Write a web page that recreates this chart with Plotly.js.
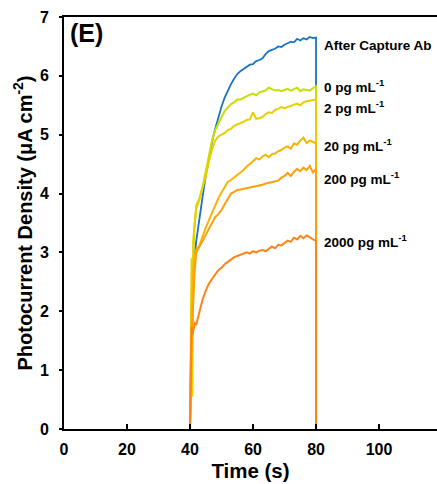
<!DOCTYPE html>
<html>
<head>
<meta charset="utf-8">
<script src="https://cdn.plot.ly/plotly-3.0.1.min.js"></script>
<style>html,body{margin:0;padding:0;background:#fff;}#chart{width:437px;height:484px;}</style>
</head>
<body>
<div id="chart"></div>
<script>
// Time (s)
const time = [40, 40.2, 40.5, 40.8, 41, 41.5, 42, 43, 44, 45, 46, 47, 48, 49, 50, 51, 52, 53, 54, 55, 56, 57, 58, 59, 60, 61, 62, 63, 64, 65, 66, 67, 68, 69, 70, 71, 72, 73, 74, 75, 76, 77, 78, 79, 80, 80];

// Photocurrent density (µA cm^-2)
const afterCaptureAb = [0, 0.8, 1.7, 2.2, 2.5, 2.95, 3.2, 3.6, 3.95, 4.3, 4.6, 4.88, 5.1, 5.3, 5.48, 5.63, 5.76, 5.86, 5.95, 6.03, 6.08, 6.12, 6.15, 6.19, 6.2, 6.25, 6.27, 6.3, 6.37, 6.42, 6.44, 6.46, 6.5, 6.49, 6.53, 6.55, 6.58, 6.57, 6.63, 6.6, 6.64, 6.62, 6.66, 6.64, 6.65, 0];
const pg0 = [0, 1.2, 2.2, 2.7, 3.0, 3.5, 3.8, 3.92, 4.12, 4.4, 4.65, 4.9, 5.08, 5.2, 5.3, 5.4, 5.46, 5.52, 5.55, 5.6, 5.6, 5.63, 5.65, 5.68, 5.7, 5.67, 5.72, 5.73, 5.75, 5.8, 5.77, 5.75, 5.76, 5.74, 5.76, 5.78, 5.75, 5.77, 5.8, 5.74, 5.77, 5.76, 5.75, 5.79, 5.82, 0];
const pg2 = [0, 1.5, 2.9, 0.55, 3.2, 3.5, 3.75, 3.9, 4.1, 4.3, 4.55, 4.75, 4.9, 4.97, 5.0, 5.03, 5.08, 5.1, 5.15, 5.17, 5.2, 5.22, 5.25, 5.26, 5.38, 5.27, 5.28, 5.3, 5.35, 5.38, 5.37, 5.42, 5.44, 5.47, 5.45, 5.47, 5.5, 5.52, 5.53, 5.5, 5.55, 5.57, 5.58, 5.58, 5.6, 0];
const pg20 = [0, 1.0, 1.9, 2.4, 2.7, 2.95, 3.05, 3.12, 3.28, 3.42, 3.55, 3.68, 3.8, 3.92, 4.02, 4.12, 4.2, 4.23, 4.27, 4.32, 4.36, 4.4, 4.46, 4.5, 4.55, 4.6, 4.58, 4.63, 4.66, 4.62, 4.67, 4.68, 4.72, 4.74, 4.78, 4.8, 4.76, 4.85, 4.83, 4.9, 4.95, 4.86, 4.9, 4.88, 4.85, 0];
const pg200 = [0, 0.8, 1.5, 1.9, 2.2, 2.7, 3.0, 3.1, 3.2, 3.3, 3.4, 3.52, 3.6, 3.65, 3.72, 3.82, 3.92, 4.0, 4.03, 4.06, 4.07, 4.08, 4.1, 4.1, 4.12, 4.12, 4.14, 4.15, 4.17, 4.18, 4.2, 4.2, 4.22, 4.27, 4.3, 4.35, 4.3, 4.37, 4.42, 4.38, 4.44, 4.4, 4.47, 4.36, 4.42, 0];
const pg2000 = [0, 1.0, 1.75, 1.6, 1.65, 1.8, 1.78, 2.0, 2.2, 2.35, 2.47, 2.55, 2.62, 2.7, 2.74, 2.8, 2.84, 2.88, 2.92, 2.94, 2.96, 2.98, 3.0, 2.98, 3.02, 3.0, 3.03, 3.04, 3.02, 3.06, 3.1, 3.07, 3.13, 3.12, 3.16, 3.2, 3.18, 3.25, 3.22, 3.28, 3.24, 3.29, 3.26, 3.22, 3.2, 0];

const seriesNames = ["After Capture Ab", "0 pg mL<sup>-1</sup>", "2 pg mL<sup>-1</sup>", "20 pg mL<sup>-1</sup>", "200 pg mL<sup>-1</sup>", "2000 pg mL<sup>-1</sup>"];
const seriesValues = [afterCaptureAb, pg0, pg2, pg20, pg200, pg2000];
const labelY = [6.52, 5.83, 5.47, 4.82, 4.26, 3.19];
const colors = ["#1A73C4", "#C5E000", "#E8CF00", "#F7B500", "#FF9E0A", "#FF8418"];

const font = "Arial, 'Liberation Sans', sans-serif";

const traces = seriesValues.map((v, i) => ({
  x: time, y: v, type: "scatter", mode: "lines",
  line: {color: colors[i], width: i === 0 ? 1.8 : 2},
  name: seriesNames[i], hoverinfo: "skip"
}));

const annotations = seriesNames.map((n, i) => ({
  x: 81.8, y: labelY[i], xref: "x", yref: "y", text: n, showarrow: false,
  xanchor: "left", yanchor: "middle",
  font: {family: font, size: 13.5, color: "#000", weight: 700}
}));
annotations.push({
  x: 0.01, y: 1.0, xref: "paper", yref: "paper", text: "(E)", showarrow: false,
  xanchor: "left", yanchor: "top",
  font: {family: font, size: 25, color: "#000", weight: 700}
});

const layout = {
  width: 437, height: 484,
  margin: {l: 64, r: 0, t: 17, b: 55},
  paper_bgcolor: "#fff", plot_bgcolor: "#fff",
  showlegend: false,
  font: {family: font, color: "#000"},
  xaxis: {
    range: [0, 118.4], dtick: 20, tick0: 0,
    ticks: "inside", ticklen: 5, tickwidth: 2, tickcolor: "#000",
    showline: true, linewidth: 2, linecolor: "#000", mirror: true,
    showgrid: false, zeroline: false, ticklabelstandoff: 5,
    tickfont: {family: font, size: 16, color: "#000", weight: 700},
    title: {text: "Time (s)", font: {family: font, size: 20.5, color: "#000", weight: 700}, standoff: 6}
  },
  yaxis: {
    range: [0, 7], dtick: 1, tick0: 0,
    ticks: "outside", ticklen: 3, tickwidth: 2, tickcolor: "#000",
    showline: true, linewidth: 2, linecolor: "#000",
    showgrid: false, zeroline: false, ticklabelstandoff: 7,
    tickfont: {family: font, size: 16, color: "#000", weight: 700},
    title: {text: "Photocurrent Density (μA cm<sup>-2</sup>)", font: {family: font, size: 20, color: "#000", weight: 700}, standoff: 2}
  },
  annotations: annotations
};

Plotly.newPlot("chart", traces, layout, {displayModeBar: false, staticPlot: true});
</script>
</body>
</html>
